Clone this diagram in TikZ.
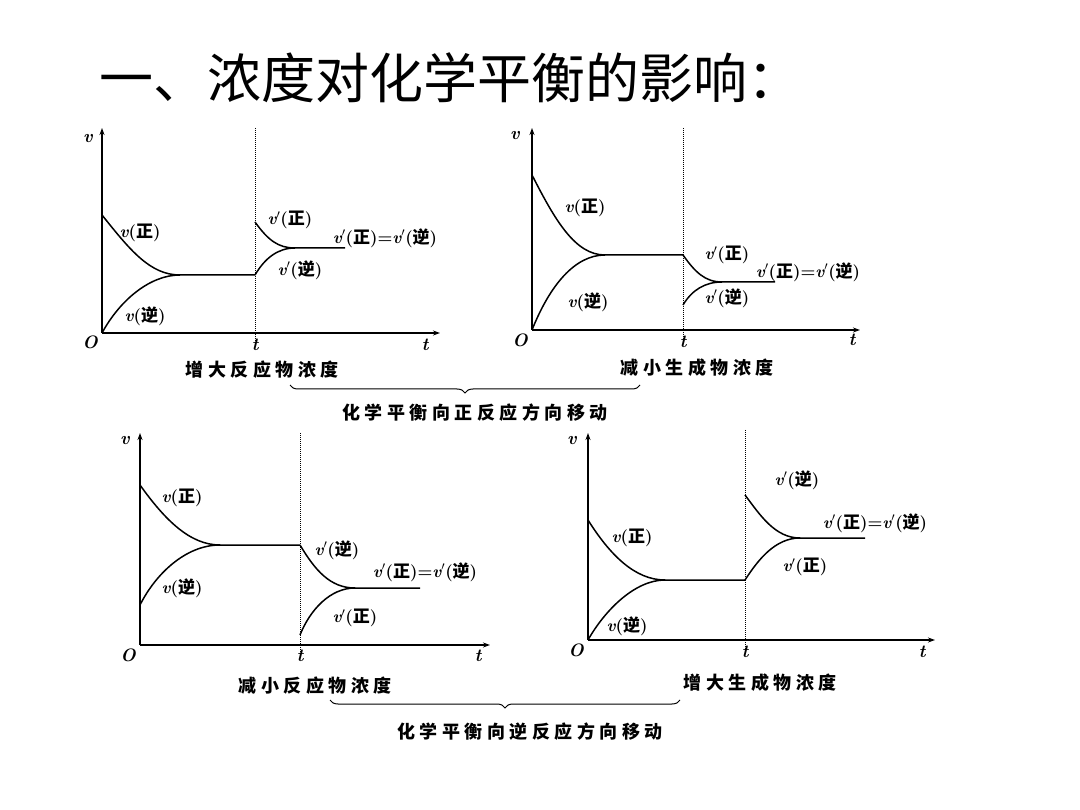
\documentclass[tikz,border=0pt]{standalone}
\usepackage{fontspec}
\newfontfamily\cjk{Noto Sans CJK SC}
\newfontfamily\cjkwide[LetterSpace=25]{Noto Sans CJK SC}
\usetikzlibrary{arrows.meta, decorations.pathreplacing}
\newcommand\vel[2]{{\rmfamily\itshape v}#1({\cjk #2})}
\tikzset{
  axis/.style={line width=1.6pt, -{Stealth[length=7pt,width=5pt]}},
  curve/.style={line width=1.5pt},
  tline/.style={line width=1pt, densely dotted},
  lab/.style={font=\fontsize{17}{17}\selectfont\bfseries},
  caption/.style={font=\fontsize{18}{18}\selectfont\cjkwide\bfseries},
  alab/.style={font=\fontsize{18}{18}\selectfont\rmfamily\itshape\bfseries},
  brace/.style={decorate, decoration={brace, mirror, amplitude=8pt}, line width=1pt}
}
\begin{document}
\begin{tikzpicture}[x=1pt, y=-1pt]
  \useasboundingbox (0,0) rectangle (1080,810);
  \node[font=\fontsize{54}{54}\selectfont\cjk, anchor=west] (title) at (96,78) {一、浓度对化学平衡的影响：};

  % panel 1: increase reactant
  \coordinate (O1) at (102,333);
  \draw[axis] (O1) -- (102,128);
  \draw[axis] (O1) -- (440,333);
  \draw[tline] (255,128) -- (255,345);
  \node[alab] (v1) at (88,138) {v};
  \node[alab] (o1) at (90,342) {O};
  \node[alab] (t1a) at (255,345) {t};
  \node[alab] (t1b) at (425,345) {t};
  \draw[curve] (102,215) .. controls (130,250) and (150,275) .. (180,275) -- (255,275);
  \draw[curve] (O1) .. controls (120,300) and (150,275) .. (180,275);
  \draw[curve] (255,222) .. controls (268,240) and (278,248) .. (295,248) -- (345,248);
  \draw[curve] (255,275) .. controls (265,258) and (278,248) .. (295,248);
  \node[lab] (l1a) at (140,233) {\vel{}{正}};
  \node[lab] (l1b) at (145,316) {\vel{}{逆}};
  \node[lab] (l1c) at (290,220) {\vel{$'$}{正}};
  \node[lab] (l1d) at (385,238) {\vel{$'$}{正}=\vel{$'$}{逆}};
  \node[lab] (l1e) at (300,270) {\vel{$'$}{逆}};
  \node[caption] (c1) at (262,370) {增大反应物浓度};

  % panel 2: decrease product
  \coordinate (O2) at (532,330);
  \draw[axis] (O2) -- (532,128);
  \draw[axis] (O2) -- (860,330);
  \draw[tline] (683,128) -- (683,342);
  \node[alab] (v2) at (515,135) {v};
  \node[alab] (o2) at (520,340) {O};
  \node[alab] (t2a) at (683,342) {t};
  \node[alab] (t2b) at (852,340) {t};
  \draw[curve] (532,175) .. controls (555,220) and (575,255) .. (605,255) -- (683,255);
  \draw[curve] (O2) .. controls (550,285) and (575,255) .. (605,255);
  \draw[curve] (683,255) .. controls (695,272) and (705,282) .. (722,282) -- (775,282);
  \draw[curve] (683,305) .. controls (692,290) and (705,282) .. (722,282);
  \node[lab] (l2a) at (585,208) {\vel{}{正}};
  \node[lab] (l2b) at (588,302) {\vel{}{逆}};
  \node[lab] (l2c) at (727,255) {\vel{$'$}{正}};
  \node[lab] (l2d) at (808,272) {\vel{$'$}{正}=\vel{$'$}{逆}};
  \node[lab] (l2e) at (727,298) {\vel{$'$}{逆}};
  \node[caption] (c2) at (697,368) {减小生成物浓度};

  \draw[brace] (290,385) -- (640,385);
  \node[caption] (b1) at (475,413) {化学平衡向正反应方向移动};

  % panel 3: decrease reactant
  \coordinate (O3) at (140,645);
  \draw[axis] (O3) -- (140,433);
  \draw[axis] (O3) -- (490,645);
  \draw[tline] (300,433) -- (300,655);
  \node[alab] (v3) at (125,440) {v};
  \node[alab] (o3) at (128,655) {O};
  \node[alab] (t3a) at (300,656) {t};
  \node[alab] (t3b) at (478,656) {t};
  \draw[curve] (140,485) .. controls (165,520) and (190,545) .. (220,545) -- (300,545);
  \draw[curve] (140,605) .. controls (155,575) and (185,545) .. (220,545);
  \draw[curve] (300,545) .. controls (315,570) and (330,588) .. (355,588) -- (420,588);
  \draw[curve] (300,635) .. controls (310,610) and (330,588) .. (355,588);
  \node[lab] (l3a) at (182,498) {\vel{}{正}};
  \node[lab] (l3b) at (182,588) {\vel{}{逆}};
  \node[lab] (l3c) at (337,550) {\vel{$'$}{逆}};
  \node[lab] (l3d) at (425,572) {\vel{$'$}{正}=\vel{$'$}{逆}};
  \node[lab] (l3e) at (355,618) {\vel{$'$}{正}};
  \node[caption] (c3) at (315,686) {减小反应物浓度};

  % panel 4: increase product
  \coordinate (O4) at (588,640);
  \draw[axis] (O4) -- (588,433);
  \draw[axis] (O4) -- (935,640);
  \draw[tline] (745,430) -- (745,652);
  \node[alab] (v4) at (572,440) {v};
  \node[alab] (o4) at (576,650) {O};
  \node[alab] (t4a) at (745,652) {t};
  \node[alab] (t4b) at (922,652) {t};
  \draw[curve] (588,520) .. controls (610,555) and (635,580) .. (665,580) -- (745,580);
  \draw[curve] (O4) .. controls (605,610) and (635,580) .. (665,580);
  \draw[curve] (745,495) .. controls (760,515) and (775,538) .. (800,538) -- (865,538);
  \draw[curve] (745,580) .. controls (758,560) and (775,538) .. (800,538);
  \node[lab] (l4a) at (632,538) {\vel{}{正}};
  \node[lab] (l4b) at (627,626) {\vel{}{逆}};
  \node[lab] (l4c) at (797,480) {\vel{$'$}{逆}};
  \node[lab] (l4d) at (875,523) {\vel{$'$}{正}=\vel{$'$}{逆}};
  \node[lab] (l4e) at (805,567) {\vel{$'$}{正}};
  \node[caption] (c4) at (760,683) {增大生成物浓度};

  \draw[brace] (330,700) -- (680,700);
  \node[caption] (b2) at (530,732) {化学平衡向逆反应方向移动};
\end{tikzpicture}
\end{document}
